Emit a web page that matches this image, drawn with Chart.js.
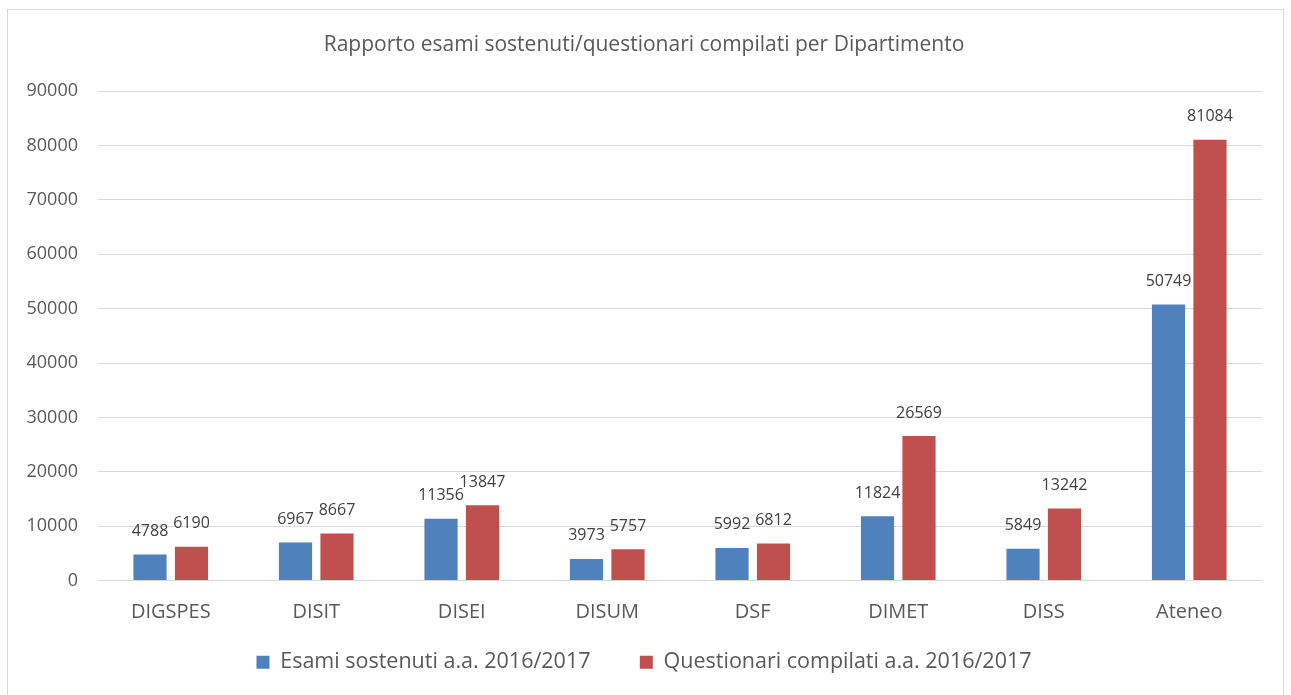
<!DOCTYPE html>
<html>
<head>
<meta charset="utf-8">
<script src="https://cdn.jsdelivr.net/npm/chart.js"></script>
<style>
  html, body { margin: 0; padding: 0; background: #fff; }
  #wrap { position: relative; width: 1291px; height: 695px; }
  #frame { position: absolute; left: 7px; top: 9px; width: 1275px; height: 700px; border: 1px solid #d9d9d9; pointer-events: none; }
</style>
</head>
<body>
<div id="wrap">
  <canvas id="chart" width="1291" height="695"></canvas>
  <div id="frame"></div>
</div>
<script>
const categories = ['DIGSPES', 'DISIT', 'DISEI', 'DISUM', 'DSF', 'DIMET', 'DISS', 'Ateneo'];
const esami = [4788, 6967, 11356, 3973, 5992, 11824, 5849, 50749];
const questionari = [6190, 8667, 13847, 5757, 6812, 26569, 13242, 81084];
const yTicks = [0, 10000, 20000, 30000, 40000, 50000, 60000, 70000, 80000, 90000];

const fontFamily = '"Open Sans", "Noto Sans", sans-serif';

// draws the value above each bar
const valueLabels = {
    id: 'valueLabels',
    afterDatasetsDraw(chart) {
        const ctx = chart.ctx;
        ctx.save();
        ctx.font = '16px ' + fontFamily;
        ctx.fillStyle = '#404040';
        ctx.textAlign = 'center';
        ctx.textBaseline = 'middle';
        chart.data.datasets.forEach((ds, i) => {
            const meta = chart.getDatasetMeta(i);
            meta.data.forEach((bar, j) => {
                ctx.fillText(ds.data[j], bar.x, bar.y - 23);
            });
        });
        ctx.restore();
    }
};

new Chart(document.getElementById('chart'), {
    type: 'bar',
    data: {
        labels: categories,
        datasets: [
            {
                label: 'Esami sostenuti a.a. 2016/2017',
                data: esami,
                backgroundColor: '#4f81bd',
                categoryPercentage: 0.57,
                barPercentage: 0.8
            },
            {
                label: 'Questionari compilati a.a. 2016/2017',
                data: questionari,
                backgroundColor: '#c0504d',
                categoryPercentage: 0.57,
                barPercentage: 0.8
            }
        ]
    },
    options: {
        responsive: false,
        animation: false,
        layout: {
            padding: { left: 26, right: 29, top: 12, bottom: 12 }
        },
        plugins: {
            title: {
                display: true,
                text: 'Rapporto esami sostenuti/questionari compilati per Dipartimento',
                color: '#595959',
                font: { family: fontFamily, size: 21, weight: 'normal' },
                padding: { top: 20, bottom: 34 }
            },
            legend: {
                position: 'bottom',
                labels: {
                    color: '#595959',
                    font: { family: fontFamily, size: 21.5 },
                    boxWidth: 13,
                    boxHeight: 13,
                    padding: 27,
                    // wider gap between the two entries, like the original
                    generateLabels(chart) {
                        const items = Chart.defaults.plugins.legend.labels.generateLabels(chart);
                        items[0].text += '    ';
                        return items;
                    }
                }
            },
            tooltip: { enabled: false }
        },
        scales: {
            x: {
                grid: { display: false, drawTicks: false },
                border: { color: '#d9d9d9' },
                ticks: {
                    color: '#595959',
                    font: { family: fontFamily, size: 20 },
                    padding: 20
                },
                afterFit(scale) {
                    scale.height = 44;
                }
            },
            y: {
                min: 0,
                max: 90000,
                afterBuildTicks(axis) {
                    axis.ticks = yTicks.map(v => ({ value: v }));
                },
                afterFit(scale) {
                    scale.width = 72;
                },
                grid: { color: '#d9d9d9', drawTicks: false },
                border: { display: false },
                ticks: {
                    color: '#595959',
                    font: { family: fontFamily, size: 18 },
                    padding: 20,
                    callback: v => String(v)
                }
            }
        }
    },
    plugins: [valueLabels]
});
</script>
</body>
</html>
